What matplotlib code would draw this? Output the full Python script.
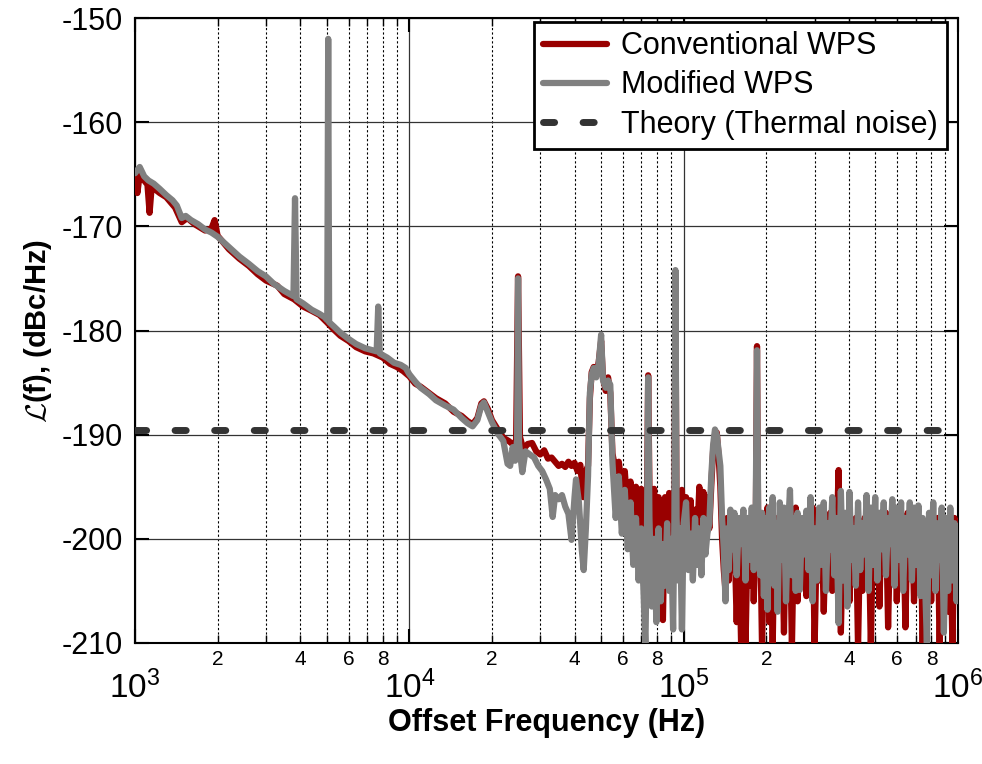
import math
import matplotlib
matplotlib.use('Agg')
import matplotlib.pyplot as plt
from matplotlib.ticker import LogLocator, FuncFormatter, MultipleLocator

# ---- data (frequency in Hz, phase noise in dBc/Hz) ----
# low part, 1 kHz .. 55 kHz, each trace on its own points
mod_f_low = [1000, 1040, 1080, 1120, 1170, 1230, 1300, 1370, 1420, 1480, 1530, 1600,
             1700, 1800, 1900, 2000, 2200, 2400, 2600, 2800, 3000, 3200, 3500, 3780,
             3830, 3880, 4100, 4400, 4700, 4900, 5020, 5060, 5100, 5300, 5600, 6000,
             6400, 6900, 7600, 7700, 7800, 8300, 8800, 9300, 9700, 10000, 10500, 11000,
             11800, 12500, 13500, 14500, 15500, 16300, 17000, 17700, 18300, 18700, 19300,
             20000, 21000, 22000, 22800, 23300, 23800, 24300, 24700, 24900, 25100, 25800,
             26500, 27500, 28500, 29500, 30500, 31500, 32500, 33300, 34000, 35000, 36000,
             37000, 38000, 39000, 40000, 40500, 41500, 42500, 43200, 44000, 44800, 45500,
             46200, 47000, 48000, 49000, 50000, 50800, 52000, 53000, 54000]
mod_v_low = [-164.9, -164.3, -165.2, -165.6, -165.9, -166.4, -167.0, -167.5, -168.0, -169.2,
             -169.0, -169.4, -169.8, -170.3, -170.6, -171.0, -172.0, -172.9, -173.6, -174.3,
             -174.8, -175.5, -176.2, -176.7, -167.3, -177.0, -177.4, -178.0, -178.4, -178.7,
             -179.0, -152.0, -179.2, -179.6, -180.2, -180.8, -181.3, -181.7, -182.0, -177.7,
             -182.2, -182.6, -183.1, -183.3, -183.6, -184.2, -184.9, -185.5, -186.1, -186.7,
             -187.2, -187.6, -188.4, -188.9, -189.2, -188.6, -187.2, -186.9, -187.8, -188.8,
             -189.9, -190.6, -192.8, -193.0, -191.2, -192.5, -190.5, -175.0, -190.8, -193.6,
             -191.6, -191.9, -192.2, -193.0, -193.5, -194.3, -195.2, -197.9, -195.8, -196.2,
             -195.8, -196.9, -197.6, -200.1, -196.0, -194.3, -196.5, -201.0, -203.0, -199.0,
             -194.0, -186.0, -184.2, -183.6, -184.5, -183.2, -180.4, -184.8, -185.5, -184.8,
             -185.2]

conv_f_low = [1000, 1020, 1040, 1080, 1110, 1130, 1150, 1230, 1300, 1400, 1480, 1550,
              1650, 1800, 1900, 1950, 2000, 2200, 2400, 2600, 2800, 3000, 3300, 3500,
              3800, 4100, 4400, 4700, 5000, 5300, 5600, 6000, 6400, 6900, 7400, 8000,
              8500, 9000, 9500, 10000, 10500, 11000, 11800, 12500, 13500, 14500, 15500,
              16300, 17000, 17700, 18300, 18700, 19300, 20000, 21000, 22000, 23000,
              24000, 24500, 24900, 25300, 26000, 27000, 28000, 29000, 30000, 31000,
              32000, 33000, 34000, 35000, 36000, 37000, 38000, 39000, 40000, 41000,
              42000, 43000, 44000, 44800, 45500, 46200, 47000, 48000, 49000, 50000,
              50800, 52000, 53000, 54000]
conv_v_low = [-165.2, -166.8, -165.0, -165.6, -166.0, -168.7, -166.2, -166.8, -167.2, -168.2,
              -169.6, -169.2, -169.8, -170.4, -170.2, -169.4, -170.9, -172.2, -173.1, -173.8,
              -174.6, -175.2, -175.7, -176.5, -177.0, -177.7, -178.1, -178.5, -179.2, -179.9,
              -180.5, -181.0, -181.6, -182.0, -182.2, -182.6, -183.2, -183.5, -183.9, -184.4,
              -185.1, -185.4, -186.0, -186.5, -187.0, -187.8, -188.2, -188.7, -189.0, -188.4,
              -187.0, -186.8, -187.5, -188.6, -189.5, -190.3, -190.6, -191.0, -190.5, -174.8,
              -190.2, -191.4, -190.9, -190.8, -191.6, -191.9, -191.5, -192.3, -192.2, -192.6,
              -193.0, -192.8, -193.1, -192.6, -193.0, -192.7, -193.5, -192.9, -196.0, -193.5,
              -193.0, -186.5, -184.0, -183.5, -184.2, -183.0, -181.0, -184.6, -185.8, -184.5,
              -186.0]

# middle part, 55 kHz .. 187 kHz, both traces on the same points
mid_f = [55000, 56500, 58000, 59500, 61000, 62500, 64000, 65500, 67000, 68500,
         70000, 71500, 72500, 73500, 74200, 75000, 76500, 78000, 79500, 81000,
         82500, 84000, 85500, 87000, 88500, 90000, 91500, 92500, 93300, 94200,
         95500, 97000, 98500, 100000, 102000, 104000, 106000, 108000, 110000, 112000,
         114000, 116000, 118000, 120000, 122000, 124000, 126000, 128000, 130000, 132000,
         134000, 136000, 138000, 140000, 142000, 144000, 146000, 148000, 150000, 153000,
         156000, 159000, 162000, 165000, 168000, 171000, 174000, 177000, 180000, 183000,
         185000, 187000]
mod_v_mid = [-192.7, -198.0, -194.0, -199.5, -195.3, -201.0, -196.5, -202.5, -198.0, -204.0,
             -199.0, -205.6, -210.5, -199.0, -184.5, -198.0, -206.5, -200.0, -208.0, -199.0,
             -206.0, -200.5, -204.5, -198.5, -205.0, -200.0, -208.7, -198.0, -174.2, -198.0,
             -204.0, -199.0, -208.7, -198.5, -196.5, -203.0, -199.5, -204.0, -198.0, -202.5,
             -199.0, -203.5, -198.0, -201.5, -199.5, -198.5, -194.0, -191.0, -189.5, -190.0,
             -191.5, -193.0, -198.0, -201.0, -206.0, -199.0, -203.0, -197.2, -201.0, -197.5,
             -203.5, -198.0, -200.5, -197.2, -204.0, -198.0, -202.0, -197.0, -203.0, -197.5,
             -181.9, -199.0]
conv_v_mid = [-191.8, -193.5, -192.6, -195.0, -193.5, -197.5, -194.5, -199.0, -195.0, -201.0,
              -195.2, -204.0, -196.0, -197.0, -184.3, -195.0, -203.0, -195.2, -204.5, -196.0,
              -203.0, -207.8, -196.0, -201.5, -195.6, -202.0, -196.0, -200.0, -176.0, -199.0,
              -197.0, -203.0, -195.3, -200.0, -196.0, -201.0, -196.3, -201.5, -197.2, -200.0,
              -195.0, -199.0, -195.5, -200.0, -196.0, -199.0, -195.0, -191.5, -190.0, -189.8,
              -192.0, -195.0, -200.0, -203.0, -205.0, -198.0, -204.0, -197.5, -203.0, -199.5,
              -208.0, -200.0, -210.5, -199.0, -210.5, -199.5, -204.5, -198.0, -206.0, -200.0,
              -181.5, -200.5]

# high part, 190 kHz .. 1 MHz, both traces on the same points
high_f = [190000, 193000, 196000, 199000, 202000, 205000, 208000, 211000, 214000, 217000,
          220000, 224000, 228000, 232000, 236000, 240000, 244000, 248000, 252000, 256000,
          260000, 265000, 270000, 275000, 280000, 285000, 290000, 295000, 300000, 306000,
          312000, 318000, 324000, 330000, 336000, 342000, 348000, 354000, 360000, 367000,
          374000, 381000, 388000, 395000, 402000, 409000, 416000, 424000, 432000, 440000,
          448000, 456000, 464000, 472000, 481000, 490000, 499000, 508000, 517000, 526000,
          536000, 546000, 556000, 566000, 576000, 587000, 598000, 609000, 620000, 631000,
          643000, 655000, 667000, 679000, 691000, 704000, 717000, 730000, 743000, 756000,
          770000, 784000, 798000, 812000, 827000, 842000, 857000, 872000, 888000, 904000,
          920000, 937000, 954000, 971000, 988000, 1000000]
mod_v_high = [-203.5, -197.5, -205.5, -198.0, -206.8, -197.0, -202.0, -196.0, -204.5, -198.5,
              -207.0, -196.5, -202.0, -197.0, -206.0, -199.0, -195.3, -203.5, -198.0, -205.0,
              -197.5, -204.9, -198.0, -201.5, -197.3, -203.0, -196.0, -206.0, -199.0, -204.0,
              -197.0, -202.5, -196.5, -205.0, -198.5, -201.0, -196.0, -203.5, -198.0, -208.1,
              -195.4, -204.0, -197.5, -206.5, -195.5, -202.0, -199.0, -204.5, -196.5, -203.0,
              -198.5, -201.5, -195.8, -205.0, -197.0, -202.5, -196.0, -204.0, -197.5, -201.0,
              -196.5, -203.5, -198.0, -200.5, -196.2, -204.5, -197.0, -202.0, -196.5, -205.0,
              -198.0, -201.5, -196.5, -204.0, -197.0, -202.5, -196.8, -205.5, -198.0, -203.0,
              -210.0, -197.5, -203.5, -196.5, -205.0, -198.5, -202.0, -197.0, -209.0, -198.0,
              -205.0, -197.0, -204.0, -198.5, -206.0, -199.0]
conv_v_high = [-199.0, -210.5, -201.0, -204.0, -197.0, -208.0, -198.5, -210.5, -200.0, -203.5,
               -198.0, -206.0, -199.0, -209.0, -197.5, -204.0, -199.0, -210.5, -200.0, -197.0,
               -206.0, -199.5, -203.0, -198.0, -205.5, -199.0, -202.0, -197.0, -210.5, -199.0,
               -204.0, -198.5, -207.0, -199.0, -203.0, -197.5, -205.0, -199.0, -201.0, -193.4,
               -209.0, -199.0, -204.5, -198.5, -206.0, -199.5, -203.0, -198.0, -210.5, -199.0,
               -205.0, -198.0, -203.0, -198.5, -210.5, -199.0, -204.0, -198.0, -206.5, -198.5,
               -203.0, -197.5, -208.5, -199.0, -203.0, -197.0, -206.0, -199.0, -203.5, -198.0,
               -208.5, -197.5, -203.0, -198.0, -206.0, -199.0, -203.5, -198.0, -210.5, -199.0,
               -204.0, -198.5, -206.0, -199.0, -202.5, -198.0, -210.5, -199.0, -204.0, -198.5,
               -207.0, -199.0, -210.5, -198.0, -205.0, -203.0]

theory_f = [1000, 1000000]
theory_v = [-189.6, -189.6]

labels = ['Conventional WPS', 'Modified WPS', 'Theory (Thermal noise)']

mod_f = mod_f_low + mid_f + high_f
mod_v = mod_v_low + mod_v_mid + mod_v_high
conv_f = conv_f_low + mid_f + high_f
conv_v = conv_v_low + conv_v_mid + conv_v_high

plt.rcParams['font.family'] = ['Liberation Sans', 'DejaVu Sans']
plt.rcParams['mathtext.fontset'] = 'cm'
plt.rcParams['axes.unicode_minus'] = False

fig = plt.figure(figsize=(9.82, 7.64), dpi=100)
ax = fig.add_axes([0.1375, 0.1584, 0.8381, 0.818])

ax.plot(conv_f, conv_v, color='#990000', lw=4.5, label=labels[0],
        solid_joinstyle='round', solid_capstyle='round', zorder=3)
ax.plot(mod_f, mod_v, color='#808080', lw=4.5, label=labels[1],
        solid_joinstyle='round', solid_capstyle='round', zorder=4)
ax.plot(theory_f, theory_v, color='#333333', lw=5, label=labels[2],
        dashes=(1.6, 4.1), dash_capstyle='round', zorder=5)

ax.set_xscale('log')
ax.set_xlim(1e3, 1e6)
ax.set_ylim(-210, -150)
ax.yaxis.set_major_locator(MultipleLocator(10))
ax.xaxis.set_major_locator(LogLocator(base=10))
ax.xaxis.set_minor_locator(LogLocator(base=10, subs=[2, 3, 4, 5, 6, 7, 8, 9]))


def minor_label(x, pos):
    d = int(round(x / 10 ** math.floor(math.log10(x) + 1e-9)))
    return str(d) if d in (2, 4, 6, 8) else ''


ax.xaxis.set_minor_formatter(FuncFormatter(minor_label))

ax.tick_params(which='both', direction='in', top=True, right=True)
ax.tick_params(axis='x', which='major', labelsize=24, pad=20, length=10, width=1.5)
ax.tick_params(axis='x', which='minor', labelsize=15, pad=5, length=6, width=1)
ax.tick_params(axis='y', which='major', labelsize=22, pad=9, length=10, width=1.5)

ax.grid(which='major', axis='both', color='#333333', lw=0.9, ls='-')
ax.grid(which='minor', axis='x', color='black', lw=0.8, ls=(0, (2, 2)))
ax.set_axisbelow(True)

for s in ax.spines.values():
    s.set_linewidth(1.5)

ax.set_xlabel('Offset Frequency (Hz)', fontsize=22, fontweight='bold', labelpad=2)
ax.set_ylabel(r'$\mathcal{L}$(f), (dBc/Hz)', fontsize=21, fontweight='bold', labelpad=5)

leg = ax.legend(loc='upper right', bbox_to_anchor=(0.9866, 0.9936), fontsize=22,
                fancybox=False, edgecolor='black', framealpha=1, borderpad=0.3,
                labelspacing=0.3, handlelength=2.1, handletextpad=0.45,
                borderaxespad=0)
leg.get_frame().set_linewidth(2)

fig.savefig('out.png', dpi=100)
